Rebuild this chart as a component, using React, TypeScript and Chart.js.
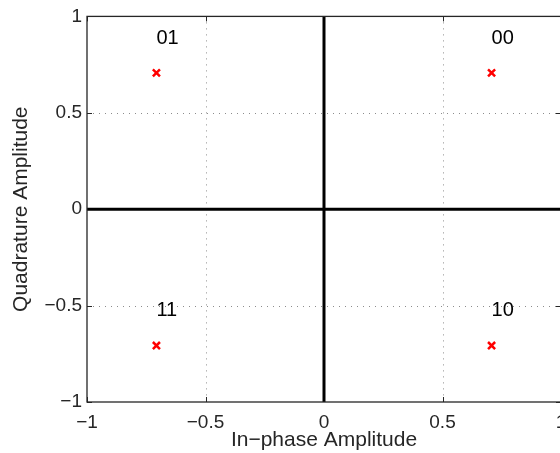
import React, { useEffect, useRef } from "react";
import { Chart, registerables } from "chart.js";

Chart.register(...registerables);

// QPSK constellation (Gray-coded)
const symbols = ["00", "01", "11", "10"];
const inPhase = [0.7071, -0.7071, -0.7071, 0.7071];
const quadrature = [0.7071, 0.7071, -0.7071, -0.7071];
const labelShift = 0.18; // symbol text sits above each point (data units)

const tickValues = [-1, -0.5, 0, 0.5, 1];
const tickLabels = ["\u22121", "\u22120.5", "0", "0.5", "1"];
const gridValues = [-0.5, 0.5];

const xTitle = "In\u2212phase Amplitude";
const yTitle = "Quadrature Amplitude";

const FONT = "'Liberation Sans', Arial, Helvetica, sans-serif";
const AXIS_COLOR = "#262626";

const fmt = (v: number) => {
  const i = tickValues.findIndex((t) => Math.abs(t - v) < 1e-9);
  return i >= 0 ? tickLabels[i] : "";
};

const decorPlugin = {
  id: "matlabDecor",
  beforeDatasetsDraw(chart: any) {
    const { ctx, chartArea: a, scales } = chart;
    const xs = scales.x;
    const ys = scales.y;
    ctx.save();
    // dotted grid
    ctx.strokeStyle = "rgba(0,0,0,0.45)";
    ctx.lineWidth = 1;
    ctx.setLineDash([1, 5]);
    gridValues.forEach((v) => {
      const px = Math.round(xs.getPixelForValue(v)) + 0.5;
      ctx.beginPath();
      ctx.moveTo(px, a.top);
      ctx.lineTo(px, a.bottom);
      ctx.stroke();
      const py = Math.round(ys.getPixelForValue(v)) + 0.5;
      ctx.beginPath();
      ctx.moveTo(a.left, py);
      ctx.lineTo(a.right, py);
      ctx.stroke();
    });
    ctx.setLineDash([]);
    // tick marks (inside)
    ctx.strokeStyle = AXIS_COLOR;
    ctx.lineWidth = 1;
    const tl = 5;
    tickValues.forEach((v) => {
      const px = Math.round(xs.getPixelForValue(v)) + 0.5;
      ctx.beginPath();
      ctx.moveTo(px, a.bottom);
      ctx.lineTo(px, a.bottom - tl);
      ctx.moveTo(px, a.top);
      ctx.lineTo(px, a.top + tl);
      ctx.stroke();
      const py = Math.round(ys.getPixelForValue(v)) + 0.5;
      ctx.beginPath();
      ctx.moveTo(a.left, py);
      ctx.lineTo(a.left + tl, py);
      ctx.moveTo(a.right, py);
      ctx.lineTo(a.right - tl, py);
      ctx.stroke();
    });
    // zero axes
    ctx.strokeStyle = "#000";
    ctx.lineWidth = 3;
    const x0 = xs.getPixelForValue(0);
    const y0 = ys.getPixelForValue(0);
    ctx.beginPath();
    ctx.moveTo(x0, a.top);
    ctx.lineTo(x0, a.bottom);
    ctx.moveTo(a.left, y0);
    ctx.lineTo(a.right, y0);
    ctx.stroke();
    // box
    ctx.strokeStyle = AXIS_COLOR;
    ctx.lineWidth = 1.3;
    ctx.strokeRect(a.left, a.top, a.right - a.left, a.bottom - a.top);
    ctx.restore();
  },
  afterDatasetsDraw(chart: any) {
    const { ctx, scales } = chart;
    ctx.save();
    ctx.fillStyle = "#000";
    ctx.font = `20px ${FONT}`;
    ctx.textAlign = "left";
    ctx.textBaseline = "middle";
    symbols.forEach((s, i) => {
      const px = scales.x.getPixelForValue(inPhase[i]);
      const py = scales.y.getPixelForValue(quadrature[i] + labelShift);
      ctx.fillText(s, px, py);
    });
    ctx.restore();
  },
};

export default function App() {
  const ref = useRef<HTMLCanvasElement>(null);
  useEffect(() => {
    if (!ref.current) return;
    const chart = new Chart(ref.current, {
      type: "scatter",
      data: {
        datasets: [
          {
            label: "QPSK",
            data: inPhase.map((x, i) => ({ x, y: quadrature[i] })),
            pointStyle: "crossRot",
            pointRadius: 5,
            pointBorderWidth: 2.5,
            borderColor: "#ff0000",
            backgroundColor: "#ff0000",
            showLine: false,
          },
        ],
      },
      options: {
        animation: false,
        responsive: false,
        devicePixelRatio: 1,
        layout: { padding: { top: 15, right: 39, left: 0, bottom: 0 } },
        plugins: {
          legend: { display: false },
          tooltip: { enabled: false },
        },
        scales: {
          x: {
            type: "linear",
            min: -1,
            max: 1,
            grid: { display: false, drawTicks: false },
            border: { display: false },
            ticks: {
              stepSize: 0.5,
              autoSkip: false,
              maxRotation: 0,
              color: AXIS_COLOR,
              font: { family: FONT, size: 19 },
              padding: 9,
              callback: (v: any) => fmt(Number(v)),
            },
            title: {
              display: true,
              text: xTitle,
              color: AXIS_COLOR,
              font: { family: FONT, size: 21 },
              padding: { top: 0, bottom: 0 },
            },
            afterFit: (s: any) => {
              s.height = 51;
            },
          },
          y: {
            type: "linear",
            min: -1,
            max: 1,
            grid: { display: false, drawTicks: false },
            border: { display: false },
            ticks: {
              stepSize: 0.5,
              autoSkip: false,
              color: AXIS_COLOR,
              font: { family: FONT, size: 19 },
              padding: 5,
              callback: (v: any) => fmt(Number(v)),
            },
            title: {
              display: true,
              text: yTitle,
              color: AXIS_COLOR,
              font: { family: FONT, size: 21 },
              padding: { top: 9, bottom: 0 },
            },
            afterFit: (s: any) => {
              s.width = 87;
            },
          },
        },
      },
      plugins: [decorPlugin],
    } as any);
    return () => chart.destroy();
  }, []);
  return (
    <div
      style={{
        position: "absolute",
        left: 0,
        top: 0,
        width: 560,
        height: 453,
        overflow: "hidden",
        background: "#fff",
      }}
    >
      <canvas ref={ref} width={600} height={453} style={{ display: "block" }} />
    </div>
  );
}
